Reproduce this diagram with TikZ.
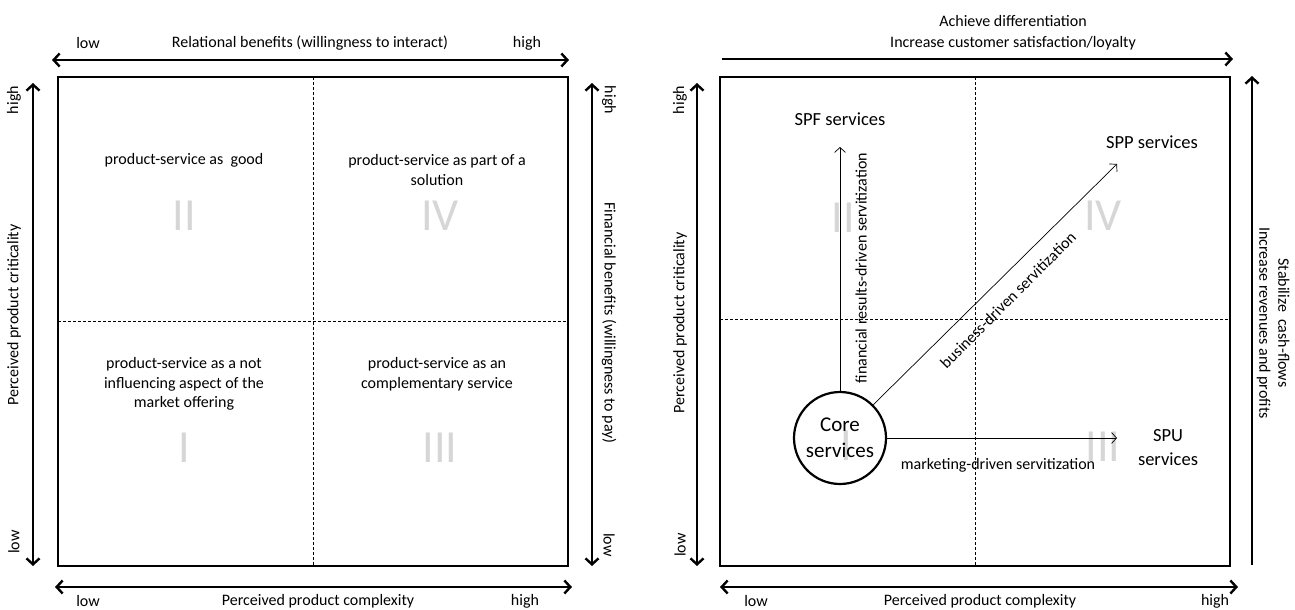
\documentclass[tikz,border=0pt]{standalone}
\usepackage{fontspec}
\setmainfont{Carlito}
\usetikzlibrary{arrows.meta}
\begin{document}
\begin{tikzpicture}[x=1pt,y=-1pt,
  lab/.style={font=\fontsize{16}{19.5}\selectfont, inner sep=0pt, align=center},
  big/.style={font=\fontsize{18.5}{24}\selectfont, inner sep=0pt, align=center},
  roman/.style={font=\fontsize{46}{46}\selectfont, text=black!16, inner sep=0pt},
  frame/.style={line width=2.4pt},
  quaddash/.style={dash pattern=on 3pt off 2pt, line width=0.7pt},
  axis/.style={line width=2.4pt, {Straight Barb[length=6pt,width=13pt]}-{Straight Barb[length=6pt,width=13pt]}},
  axisone/.style={line width=2.4pt, -{Straight Barb[length=6pt,width=13pt]}},
  flow/.style={line width=0.7pt, -{Straight Barb[length=5pt,width=11pt]}}]
\useasboundingbox (0,0) rectangle (1295,610);

% ================= LEFT PANEL =================
\coordinate (LTL) at (58,77);
\coordinate (LBR) at (568,566);
\coordinate (LVT) at (313,77);
\coordinate (LVB) at (313,566);
\coordinate (LHL) at (58,321);
\coordinate (LHR) at (568,321);
\draw[quaddash] (LVT) -- (LVB);
\draw[quaddash] (LHL) -- (LHR);
\draw[frame] (LTL) rectangle (LBR);

\coordinate (LTa) at (52,60);
\coordinate (LTb) at (569,60);
\draw[axis] (LTa) -- (LTb);
\node[lab] (ltlow) at (88,43) {low};
\node[lab] (lttitle) at (310,43) {Relational benefits (willingness to interact)};
\node[lab] (lthigh) at (527,43) {high};

\coordinate (LBa) at (55,587);
\coordinate (LBb) at (572,587);
\draw[axis] (LBa) -- (LBb);
\node[lab] (lblow) at (88,601) {low};
\node[lab] (lbtitle) at (318,601) {Perceived product complexity};
\node[lab] (lbhigh) at (525,601) {high};

\coordinate (LLa) at (33,83);
\coordinate (LLb) at (33,566);
\draw[axis] (LLa) -- (LLb);
\node[lab, rotate=90] (lllhigh) at (14,100) {high};
\node[lab, rotate=90] (llltitle) at (14,315) {Perceived product criticality};
\node[lab, rotate=90] (llllow) at (14,542) {low};

\coordinate (LRa) at (592,83);
\coordinate (LRb) at (592,566);
\draw[axis] (LRa) -- (LRb);
\node[lab, rotate=-90] (lrhigh) at (609,100) {high};
\node[lab, rotate=-90] (lrtitle) at (609,323) {Financial benefits (willingness to pay)};
\node[lab, rotate=-90] (lrlow) at (609,545) {low};

\node[roman] (lII) at (184,216) {II};
\node[roman] (lIV) at (440,216) {IV};
\node[roman] (lI) at (184,448) {I};
\node[roman] (lIII) at (440,448) {III};

\node[lab] (q2) at (184,160) {product-service as\ \ good};
\node[lab] (q4) at (437,170) {product-service as part of a\\solution};
\node[lab] (q1) at (184,384) {product-service as a not\\influencing aspect of the\\market offering};
\node[lab] (q3) at (437,374) {product-service as an\\complementary service};

% ================= RIGHT PANEL =================
\coordinate (RTL) at (720,77);
\coordinate (RBR) at (1230,566);
\coordinate (RVT) at (975,77);
\coordinate (RVB) at (975,566);
\coordinate (RHL) at (720,319);
\coordinate (RHR) at (1230,319);
\draw[quaddash] (RVT) -- (RVB);
\draw[quaddash] (RHL) -- (RHR);
\draw[frame] (RTL) rectangle (RBR);

\coordinate (RTa) at (722,59);
\coordinate (RTb) at (1233,59);
\draw[axisone] (RTa) -- (RTb);
\node[lab, font=\fontsize{16}{21}\selectfont] (rttitle) at (1013,33) {Achieve differentiation\\Increase customer satisfaction/loyalty};

\coordinate (RBa) at (720,587);
\coordinate (RBb) at (1238,587);
\draw[axis] (RBa) -- (RBb);
\node[lab] (rblow) at (756,601) {low};
\node[lab] (rbtitle) at (980,601) {Perceived product complexity};
\node[lab] (rbhigh) at (1215,601) {high};

\coordinate (RLa) at (697,83);
\coordinate (RLb) at (697,566);
\draw[axis] (RLa) -- (RLb);
\node[lab, rotate=90] (rlhigh) at (680,100) {high};
\node[lab, rotate=90] (rltitle) at (680,323) {Perceived product criticality};
\node[lab, rotate=90] (rllow) at (680,545) {low};

\coordinate (RRa) at (1252,565);
\coordinate (RRb) at (1252,76);
\draw[axisone] (RRa) -- (RRb);
\node[lab, rotate=-90, font=\fontsize{16}{19}\selectfont] (rrtitle) at (1273,323) {Stabilize\ \ cash-flows\\Increase revenues and profits};

\node[roman] (rII) at (843,218) {II};
\node[roman] (rIV) at (1103,216) {IV};
\node[roman] (rI) at (846,446) {I};
\node[roman] (rIII) at (1103,447) {III};

\node[draw, circle, line width=2.2pt, minimum size=92pt, inner sep=0pt, font=\fontsize{21}{26}\selectfont, align=center] (core) at (840,438) {Core\\services};

\node[big] (spf) at (840,119) {SPF services};
\node[big] (spp) at (1152,142) {SPP services};
\node[big] (spu) at (1168,448) {SPU\\services};

\coordinate (spfend) at (840,147);
\coordinate (sppend) at (1117,164);
\coordinate (spuend) at (1117,438);

\draw[flow] (core.north) -- (spfend);
\draw[flow] (core.45) -- (sppend);
\draw[flow] (core.east) -- (spuend);

\node[lab, rotate=45] (bds) at (1008,300) {business-driven servitization};
\node[lab, rotate=90] (frs) at (861,268) {financial results-driven servitization};
\node[lab] (mds) at (998,465) {marketing-driven servitization};
\end{tikzpicture}
\end{document}
